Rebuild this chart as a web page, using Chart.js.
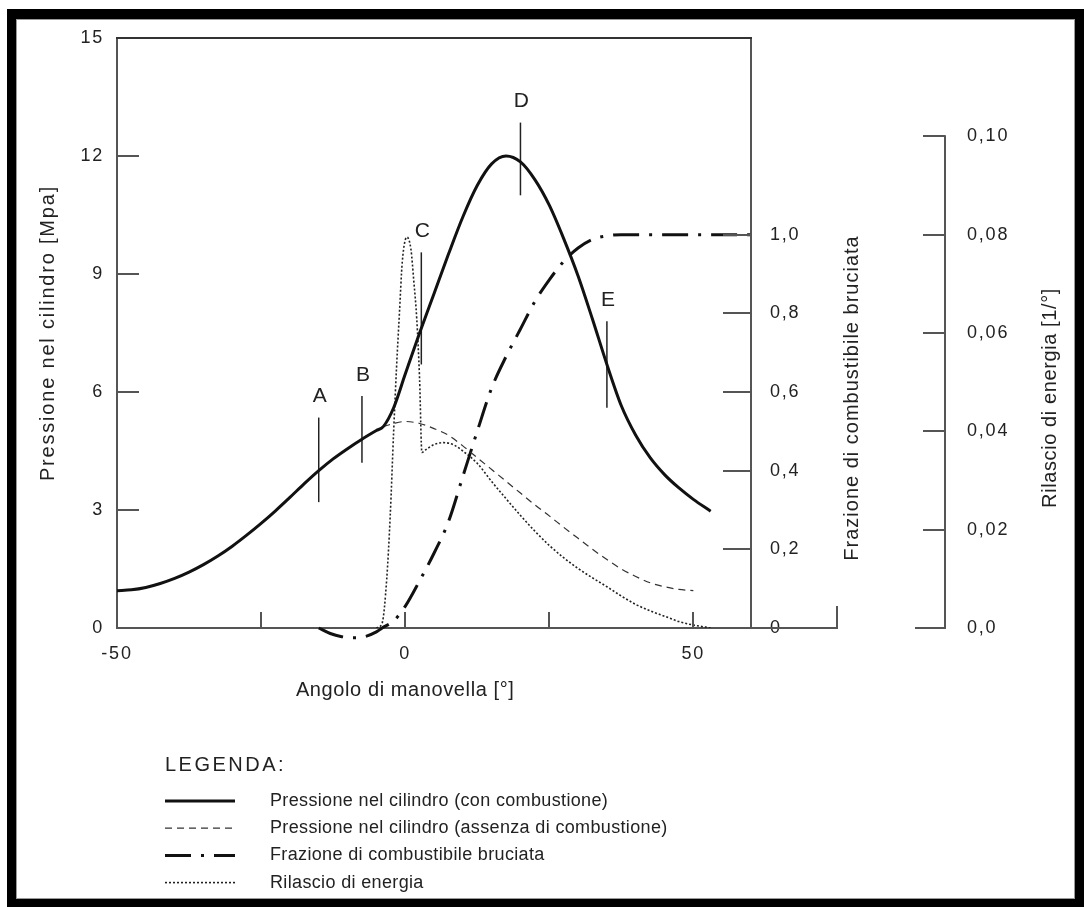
<!DOCTYPE html>
<html>
<head>
<meta charset="utf-8">
<script src="https://cdn.jsdelivr.net/npm/chart.js@4.4.1/dist/chart.umd.min.js"></script>
<style>
  html, body { margin: 0; padding: 0; background: #fff; }
  body { width: 1084px; height: 907px; position: relative; overflow: hidden; font-family: "Liberation Sans", Arial, sans-serif; }
  #cornice { position: absolute; left: 7px; top: 9px; width: 1077px; height: 898px; background: #000; }
  #foglio { position: absolute; left: 16px; top: 19px; width: 1057px; height: 878px; background: #fff; border: 1px solid #9a9a9a; }
  #grafico { position: absolute; left: 0; top: 0; }
</style>
</head>
<body>
<div id="cornice"></div>
<div id="foglio"></div>
<canvas id="grafico" width="1084" height="907"></canvas>
<script>
// Dati (angolo di manovella in gradi)
const angoliPressione = [-50, -47.5, -45, -42.5, -40, -37.5, -35, -32.5, -30, -27.5, -25, -22.5, -20, -17.5, -15, -12.5, -10, -7.5, -5, -3.8, -2, 0, 2.5, 5, 7.5, 10, 12.5, 15, 17.5, 20, 22.5, 25, 27.5, 30, 32.5, 35, 37.5, 40, 42.5, 45, 47.5, 50, 53];
const pressioneCombustione = [0.95, 0.97, 1.03, 1.13, 1.26, 1.42, 1.61, 1.83, 2.08, 2.36, 2.66, 2.98, 3.32, 3.67, 4.0, 4.3, 4.56, 4.8, 5.02, 5.12, 5.6, 6.45, 7.5, 8.5, 9.5, 10.45, 11.25, 11.8, 12.0, 11.85, 11.4, 10.75, 9.9, 8.95, 7.85, 6.7, 5.65, 4.9, 4.33, 3.9, 3.56, 3.27, 2.97];

const angoliSenzaComb = [-3.8, -2, 0, 2.5, 5, 7.5, 10, 12.5, 15, 17.5, 20, 22.5, 25, 27.5, 30, 32.5, 35, 37.5, 40, 42.5, 45, 47.5, 50];
const pressioneSenzaComb = [5.12, 5.2, 5.25, 5.2, 5.07, 4.9, 4.63, 4.33, 4.03, 3.73, 3.43, 3.13, 2.85, 2.56, 2.28, 2.0, 1.74, 1.5, 1.31, 1.15, 1.05, 0.98, 0.95];

const angoliFrazione = [-15, -13, -11, -9, -7, -5, -4, -2, 0, 2.5, 5, 7.5, 10, 12.5, 15, 17.5, 20, 22.5, 25, 27.5, 30, 32.5, 35, 37.5, 40, 45, 50, 55, 60];
const frazioneBruciata = [0, -0.014, -0.022, -0.025, -0.022, -0.01, 0, 0.018, 0.055, 0.12, 0.19, 0.27, 0.385, 0.5, 0.61, 0.69, 0.76, 0.83, 0.885, 0.932, 0.966, 0.988, 0.997, 1.0, 1.0, 1.0, 1.0, 1.0, 1.0];

const angoliEnergia = [-5, -4, -3.2, -2.6, -2, -1.5, -1, -0.5, 0.3, 1, 1.5, 2, 2.5, 2.9, 3.5, 5, 6.7, 8.5, 10, 12.5, 15, 17.5, 20, 22.5, 25, 27.5, 30, 32.5, 35, 37.5, 40, 42.5, 45, 47.5, 50, 53];
const rilascioEnergia = [0, 0.001, 0.01, 0.0227, 0.04, 0.053, 0.064, 0.0745, 0.0795, 0.077, 0.0705, 0.063, 0.0506, 0.0357, 0.0362, 0.0373, 0.0377, 0.0372, 0.036, 0.0335, 0.0298, 0.0263, 0.0229, 0.0197, 0.0168, 0.0143, 0.0121, 0.0102, 0.0084, 0.0065, 0.0048, 0.0035, 0.0024, 0.0013, 0.0006, 0];

// Punti caratteristici A-E
const marcatori = ['A', 'B', 'C', 'D', 'E'];
const angoliMarcatori = [-15, -7.5, 2.8, 20, 35];
const pressMinMarcatori = [3.2, 4.2, 6.7, 11.0, 5.6];
const pressMaxMarcatori = [5.35, 5.9, 9.55, 12.85, 7.8];

// Tacche e etichette
const tickAngolo = [-50, -25, 0, 25, 50];
const etichetteAngolo = ['-50', '', '0', '', '50'];
const tickPressione = [0, 3, 6, 9, 12, 15];
const tickFrazione = [0, 0.2, 0.4, 0.6, 0.8, 1.0];
const etichetteFrazione = ['0', '0,2', '0,4', '0,6', '0,8', '1,0'];
const tickEnergia = [0, 0.02, 0.04, 0.06, 0.08, 0.10];
const etichetteEnergia = ['0,0', '0,02', '0,04', '0,06', '0,08', '0,10'];

const vociLegenda = [
  'Pressione nel cilindro (con combustione)',
  'Pressione nel cilindro (assenza di combustione)',
  'Frazione di combustibile bruciata',
  'Rilascio di energia'
];

const FONT = '"Liberation Sans", Arial, sans-serif';
const punti = (xs, ys) => xs.map((x, i) => ({ x: x, y: ys[i] }));
const fissaTick = valori => scala => { scala.ticks = valori.map(v => ({ value: v })); };

const stileBase = { pointRadius: 0, fill: false, cubicInterpolationMode: 'monotone', borderCapStyle: 'butt' };

const serie = [
  { ...stileBase, label: vociLegenda[0], data: punti(angoliPressione, pressioneCombustione), yAxisID: 'y', borderColor: '#111', borderWidth: 3, borderDash: [] },
  { ...stileBase, label: vociLegenda[1], data: punti(angoliSenzaComb, pressioneSenzaComb), yAxisID: 'y', borderColor: '#333', borderWidth: 1.2, borderDash: [7, 5] },
  { ...stileBase, label: vociLegenda[2], data: punti(angoliFrazione, frazioneBruciata), yAxisID: 'yF', borderColor: '#111', borderWidth: 3, borderDash: [26, 10, 3, 10], clip: false },
  { ...stileBase, label: vociLegenda[3], data: punti(angoliEnergia, rilascioEnergia), yAxisID: 'yE', borderColor: '#222', borderWidth: 1.6, borderDash: [2, 2] }
];

const lineeMarcatori = marcatori.map((m, i) => ({
  label: m,
  marcatore: true,
  data: [{ x: angoliMarcatori[i], y: pressMinMarcatori[i] }, { x: angoliMarcatori[i], y: pressMaxMarcatori[i] }],
  yAxisID: 'y',
  borderColor: '#222',
  borderWidth: 1.5,
  pointRadius: 0
}));

function linea(ctx, x1, y1, x2, y2) {
  ctx.beginPath();
  ctx.moveTo(x1, y1);
  ctx.lineTo(x2, y2);
  ctx.stroke();
}

function testo(ctx, t, x, y, size, spacing, align, rot) {
  ctx.save();
  ctx.font = size + 'px ' + FONT;
  ctx.letterSpacing = spacing + 'px';
  ctx.fillStyle = '#222';
  ctx.textAlign = align || 'left';
  ctx.textBaseline = 'middle';
  ctx.translate(x, y);
  if (rot) ctx.rotate(rot);
  ctx.fillText(t, 0, 0);
  ctx.restore();
}

const dettagli = {
  id: 'dettagli',
  beforeDraw(chart) {
    chart.ctx.letterSpacing = '1.8px';
  },
  afterDraw(chart) {
    const { ctx, chartArea: a, scales } = chart;
    const { x, y, yF, yE } = scales;
    ctx.save();
    ctx.letterSpacing = '0px';
    ctx.lineCap = 'butt';

    // bordo superiore del riquadro
    ctx.strokeStyle = '#333';
    ctx.lineWidth = 2;
    linea(ctx, a.left - 1, a.top, a.right + 1, a.top);

    // tacche interne
    ctx.strokeStyle = '#555';
    tickPressione.slice(1, -1).forEach(v => {
      const p = Math.round(y.getPixelForValue(v));
      linea(ctx, a.left, p, a.left + 22, p);
    });
    tickAngolo.slice(1).forEach(v => {
      const p = Math.round(x.getPixelForValue(v));
      linea(ctx, p, a.bottom, p, a.bottom - 16);
    });
    tickFrazione.slice(1).forEach(v => {
      const p = Math.round(yF.getPixelForValue(v));
      linea(ctx, a.right - 28, p, a.right, p);
    });

    // staffa dello zero della frazione
    const zeroF = Math.round(yF.getPixelForValue(0));
    linea(ctx, a.right, zeroF, a.right + 86, zeroF);
    linea(ctx, a.right + 86, zeroF + 1, a.right + 86, zeroF - 22);

    // asse del rilascio di energia (solo fino a 0,10)
    const ex = Math.round(yE.left);
    linea(ctx, ex, yE.getPixelForValue(0) + 1, ex, yE.getPixelForValue(tickEnergia[tickEnergia.length - 1]) - 1);
    tickEnergia.forEach((v, i) => {
      const p = Math.round(yE.getPixelForValue(v));
      linea(ctx, ex - (i === 0 ? 30 : 22), p, ex, p);
    });

    // titoli degli assi
    testo(ctx, 'Angolo di manovella [°]', x.getPixelForValue(0), 690, 20, 0.6, 'center');
    testo(ctx, 'Frazione di combustibile bruciata', yF.left + 101, 398, 20, 1, 'center', -Math.PI / 2);
    testo(ctx, 'Rilascio di energia [1/°]', yE.left + 105, 398, 20, 0.6, 'center', -Math.PI / 2);

    // lettere dei punti caratteristici
    marcatori.forEach((m, i) => {
      const px = x.getPixelForValue(angoliMarcatori[i]);
      const py = y.getPixelForValue(pressMaxMarcatori[i]) - 21;
      testo(ctx, m, px + 1, py, 21, 0, 'center');
    });

    // legenda
    testo(ctx, 'LEGENDA:', 165, 765, 20, 2.5, 'left');
    chart.data.datasets.filter(d => !d.marcatore).forEach((d, i) => {
      const ry = 801 + i * 27.2;
      ctx.save();
      ctx.strokeStyle = d.borderColor;
      ctx.lineWidth = d.borderWidth;
      ctx.setLineDash(d.borderDash);
      linea(ctx, 165, ry, 235, ry);
      ctx.restore();
      testo(ctx, d.label, 270, ry, 18, 0.35, 'left');
    });
    ctx.restore();
  }
};

const tickComuni = { color: '#222', font: { size: 18, family: FONT } };

new Chart(document.getElementById('grafico'), {
  type: 'line',
  data: { datasets: serie.concat(lineeMarcatori) },
  options: {
    responsive: false,
    animation: false,
    events: [],
    layout: { padding: { left: 0, top: 38, right: 14, bottom: 207 } },
    plugins: { legend: { display: false }, tooltip: { enabled: false } },
    scales: {
      x: {
        type: 'linear', min: -50, max: 60,
        afterBuildTicks: fissaTick(tickAngolo),
        ticks: { ...tickComuni, padding: 15, maxRotation: 0, autoSkip: false, callback: (v, i) => etichetteAngolo[i] },
        grid: { display: false, drawTicks: false },
        border: { display: true, color: '#555', width: 2 },
        afterFit: s => { s.height = 72; }
      },
      y: {
        type: 'linear', position: 'left', min: 0, max: 15,
        afterBuildTicks: fissaTick(tickPressione),
        ticks: { ...tickComuni, padding: 13 },
        grid: { display: false, drawTicks: false },
        border: { display: true, color: '#555', width: 2 },
        title: { display: true, text: 'Pressione nel cilindro [Mpa]', color: '#222', font: { size: 20, family: FONT }, padding: { top: 36, bottom: 0 } },
        afterFit: s => { s.width = 117; }
      },
      yF: {
        type: 'linear', position: 'right', min: 0, max: 1.5,
        afterBuildTicks: fissaTick(tickFrazione),
        ticks: { ...tickComuni, padding: 19, callback: (v, i) => etichetteFrazione[i] },
        grid: { display: false, drawTicks: false },
        border: { display: true, color: '#555', width: 2 },
        afterFit: s => { s.width = 194; }
      },
      yE: {
        type: 'linear', position: 'right', min: 0, max: 0.12,
        afterBuildTicks: fissaTick(tickEnergia),
        ticks: { ...tickComuni, padding: 22, callback: (v, i) => etichetteEnergia[i] },
        grid: { display: false, drawTicks: false },
        border: { display: false },
        afterFit: s => { s.width = 125; }
      }
    }
  },
  plugins: [dettagli]
});
</script>
</body>
</html>
